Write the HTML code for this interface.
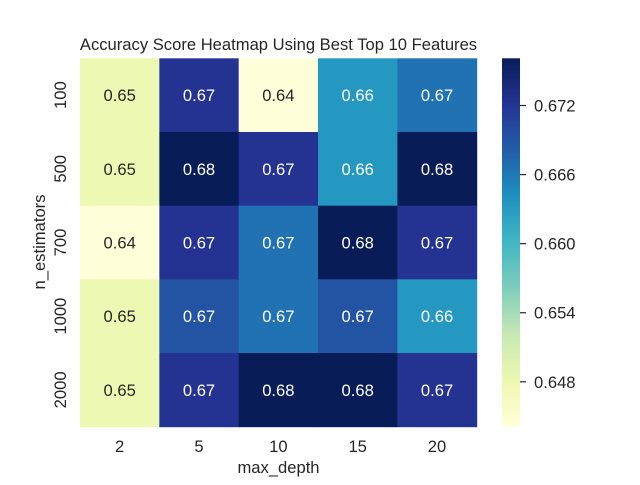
<!DOCTYPE html>
<html><head><meta charset="utf-8"><style>
body{margin:0;background:#fff}
svg text{font-family:"Liberation Sans",sans-serif;}
</style></head><body>
<svg id="chart" width="640" height="480" viewBox="0 0 640 480">
<rect width="640" height="480" fill="#fff"/>
<text x="278.5" y="50" text-anchor="middle" font-size="16.6" fill="#262626">Accuracy Score Heatmap Using Best Top 10 Features</text>
<g id="cells"></g>
<g id="xt"></g><g id="yt"></g>
<text x="278.5" y="473" text-anchor="middle" font-size="16.6" fill="#262626">max_depth</text>
<text transform="translate(45,242) rotate(-90)" text-anchor="middle" font-size="16.6" fill="#262626">n_estimators</text>
<defs><linearGradient id="cbg" x1="0" y1="1" x2="0" y2="0"></linearGradient></defs>
<rect x="502" y="58.3" width="18" height="368.4" fill="url(#cbg)"/>
<g id="cbt"></g>
</svg>
<script>
const xLabels=["2","5","10","15","20"];
const yLabels=["100","500","700","1000","2000"];
const row100=[0.648,0.6723,0.6441,0.6633,0.6665];
const row500=[0.648,0.6761,0.6723,0.6633,0.6761];
const row700=[0.6441,0.6723,0.6665,0.6761,0.6723];
const row1000=[0.648,0.6691,0.6665,0.6691,0.6633];
const row2000=[0.648,0.6723,0.6761,0.6761,0.6723];
const cbTicks=[0.648,0.654,0.660,0.666,0.672];
const vmin=0.6441, vmax=0.6761;
const rows=[row100,row500,row700,row1000,row2000];
const NS="http://www.w3.org/2000/svg";
const L=80,R=476.7,T=58.3,B=426.7;
const cw=(R-L)/xLabels.length, ch=(B-T)/yLabels.length;
const stops=["#ffffd9","#edf8b1","#c7e9b4","#7fcdbb","#41b6c4","#1d91c0","#225ea8","#253494","#081d58"];
function hex(h){return [1,3,5].map(i=>parseInt(h.substr(i,2),16));}
function cmap(t){t=Math.max(0,Math.min(1,t));const p=t*8,i=Math.min(7,Math.floor(p)),f=p-i;const a=hex(stops[i]),b=hex(stops[i+1]);return "rgb("+a.map((v,k)=>Math.round(v+(b[k]-v)*f)).join(",")+")";}
function norm(v){return (v-vmin)/(vmax-vmin);}
function mk(tag,attrs,parent){const e=document.createElementNS(NS,tag);for(const k in attrs)e.setAttribute(k,attrs[k]);parent.appendChild(e);return e;}
const cells=document.getElementById("cells");
rows.forEach((row,r)=>row.forEach((v,c)=>{
 const rect=mk("rect",{x:L+c*cw,y:T+r*ch,width:cw+0.5,height:ch+0.5,fill:cmap(norm(v))},cells);
 
 
 const t=mk("text",{x:L+(c+0.5)*cw,y:T+(r+0.5)*ch+6,"text-anchor":"middle","font-size":"16.6",fill:norm(v)>0.45?"#fff":"#262626"},cells);
 t.textContent=v.toFixed(2);
 
 
}));
const xt=document.getElementById("xt");
xLabels.forEach((s,i)=>{const t=mk("text",{x:L+(i+0.5)*cw,y:452,"text-anchor":"middle","font-size":"16.6",fill:"#262626"},xt);t.textContent=s;
 
 });
const yt=document.getElementById("yt");
yLabels.forEach((s,i)=>{const y=T+(i+0.5)*ch;const t=mk("text",{transform:"translate(66,"+y+") rotate(-90)","text-anchor":"middle","font-size":"16.6",fill:"#262626"},yt);t.textContent=s;
 
 });
const g=document.getElementById("cbg");
for(let i=0;i<=8;i++){mk("stop",{offset:i/8,"stop-color":stops[i]},g);}
const cbt=document.getElementById("cbt");
cbTicks.forEach(v=>{const y=B-norm(v)*(B-T);
 const l=mk("line",{x1:520,x2:526,y1:y,y2:y,stroke:"#262626","stroke-width":"1.2"},cbt);
 
 
 const t=mk("text",{x:534,y:y+6,"font-size":"16.6",fill:"#262626"},cbt);t.textContent=v.toFixed(3);
 
 });
</script>
</body></html>
